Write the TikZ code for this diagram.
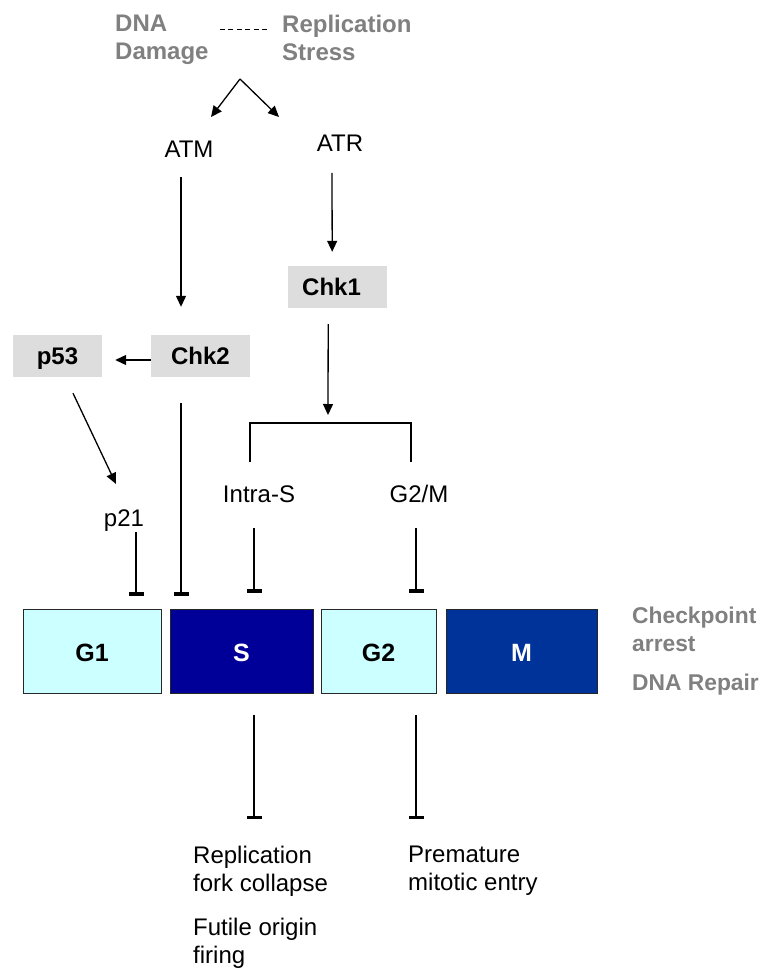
\documentclass[tikz,border=0pt]{standalone}
\usepackage{fontspec}
\setmainfont{Liberation Sans}
\usetikzlibrary{arrows.meta}
\definecolor{lcyan}{HTML}{CCFFFF}
\definecolor{sblue}{HTML}{000099}
\definecolor{mblue}{HTML}{003399}
\definecolor{gbox}{HTML}{DDDDDD}
\definecolor{gtext}{HTML}{808080}
\tikzset{
  lbl/.style={inner sep=0pt, font=\fontsize{24}{28}\selectfont},
  glbl/.style={lbl, text=gtext, font=\fontsize{24}{28}\selectfont\bfseries, align=left},
  graybox/.style={fill=gbox, inner sep=0pt, minimum height=42pt, text height=17pt, text depth=0pt, font=\fontsize{24}{28}\selectfont\bfseries},
  phase/.style={draw=black!85, line width=1pt, minimum height=84pt, inner sep=0pt, text height=20pt, text depth=0pt, font=\fontsize{25}{28}\selectfont\bfseries},
  arr/.style={line width=1.3pt, -{Triangle[length=11pt,width=10pt]}},
  inh/.style={line width=1.2pt, -{Bar[width=15pt,line width=3.5pt]}},
}
\begin{document}
\begin{tikzpicture}[x=1pt,y=-1pt]
\useasboundingbox (0,0) rectangle (773,968);
\fill[white] (0,0) rectangle (773,968);

% top labels
\node[glbl, anchor=north west] (dna) at (115,15) {DNA\\Damage};
\node[glbl, anchor=north west] (rep) at (282,15) {Replication\\Stress};
\draw[line width=1pt, dash pattern=on 5pt off 3.5pt] ([shift={(11,15)}]dna.north east) -- ([shift={(-13,15)}]rep.north west);

\node[lbl, anchor=base] (atm) at (189,158) {ATM};
\node[lbl, anchor=base] (atr) at (340,152) {ATR};
\coordinate (split) at (240,79);
\draw[arr] (split) -- ([shift={(22,-41)}]atm.base);
\draw[arr] (split) -- ([shift={(-61,-35)}]atr.base);

% kinase boxes
\node[graybox, minimum width=99pt] (chk2) at (200.5,356) {Chk2};
\node[graybox, minimum width=89pt] (p53) at (57.5,356) {p53};
\node[graybox, anchor=west, text width=71pt, inner xsep=14pt, align=left] (chk1) at (288,287) {Chk1};

\draw[arr] ([shift={(-8,19)}]atm.base) -- ([shift={(-19.5,-28)}]chk2.north);
\draw[arr] ([shift={(-8,21)}]atr.base) -- ([shift={(-5.5,-14)}]chk1.north);
\draw[arr] ([yshift=-4pt]chk2.west) -- ([shift={(13,4)}]p53.east);

% middle labels
\node[lbl, anchor=base] (p21) at (124,526) {p21};
\node[lbl, anchor=base] (intras) at (259,502) {Intra-S};
\node[lbl, anchor=base] (g2m) at (419,502) {G2/M};

\draw[arr] ([shift={(15.5,16)}]p53.south) -- ([shift={(-8,-42)}]p21.base);
\coordinate (brtop) at (328,423);
\draw[arr] ([shift={(-9.5,16)}]chk1.south) -- ([yshift=8pt]brtop);
\draw[line width=1.2pt] ([shift={(-9,-40)}]intras.base) |- (brtop) -| ([shift={(-8,-40)}]g2m.base);

% phases
\node[phase, fill=lcyan, minimum width=138pt] (g1) at (92,651) {G1};
\node[phase, fill=sblue, text=white, minimum width=143pt] (s) at (241.5,651) {S};
\node[phase, fill=lcyan, minimum width=115pt] (g2) at (378.5,651) {G2};
\node[phase, fill=mblue, text=white, minimum width=151pt] (m) at (521.5,651) {M};

% inhibitions onto phases
\draw[inh] ([shift={(12,6)}]p21.base) -- ([shift={(44,-13)}]g1.north);
\draw[inh] ([shift={(-19.5,26)}]chk2.south) -- ([shift={(-60.5,-13)}]s.north);
\draw[inh] ([shift={(-5,26)}]intras.base) -- ([shift={(12.5,-16)}]s.north);
\draw[inh] ([shift={(-3,26)}]g2m.base) -- ([shift={(37.5,-16)}]g2.north);

% right labels
\node[glbl, anchor=north west, font=\fontsize{22.8}{28}\selectfont\bfseries] (ckpt) at (632,607) {Checkpoint\\arrest};
\node[glbl, anchor=base west, font=\fontsize{22.8}{28}\selectfont\bfseries] (repair) at (632,690) {DNA Repair};

% bottom outcomes
\node[lbl, anchor=north west, align=left] (fork) at (193,846) {Replication\\fork collapse};
\node[lbl, anchor=north west, align=left] (futile) at (193,918) {Futile origin\\firing};
\node[lbl, anchor=north west, align=left] (prem) at (408,846) {Premature\\mitotic entry};

\draw[inh] ([shift={(12.5,21)}]s.south) -- ([shift={(61,-27)}]fork.north west);
\draw[inh] ([shift={(37.5,21)}]g2.south) -- ([shift={(8,-27)}]prem.north west);
\end{tikzpicture}
\end{document}
